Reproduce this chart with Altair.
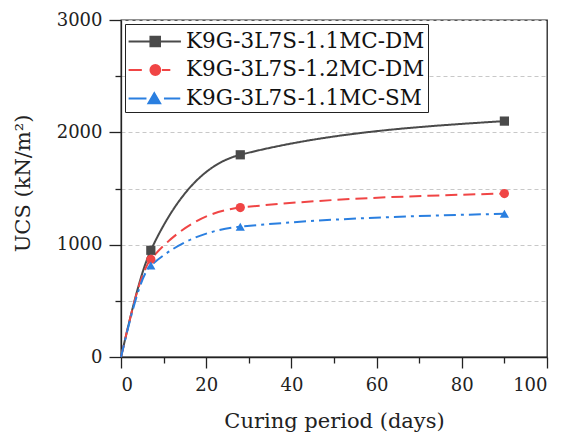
import altair as alt
import pandas as pd

# ---- data ----
days = [0, 7, 28, 90]
series_names = ["K9G-3L7S-1.1MC-DM", "K9G-3L7S-1.2MC-DM", "K9G-3L7S-1.1MC-SM"]
ucs_11_dm = [0, 950, 1800, 2100]
ucs_12_dm = [0, 870, 1330, 1455]
ucs_11_sm = [0, 815, 1160, 1275]

colors = ["#4a4a4a", "#f04545", "#2a7fe0"]
dashes = [[1, 0], [12, 6], [12, 5, 3, 5]]
point_shapes = ["square", "circle", "triangle-up"]
# legend glyphs: line segment(s) plus marker, in symbol units
legend_paths = [
    "M-1.05,0H2.9M0.6,-0.36H1.32V0.36H0.6Z",
    "M-1.05,0H-0.05M1.47,0H2.1M1.34,0A0.37,0.37,0,1,1,0.6,0A0.37,0.37,0,1,1,1.34,0Z",
    "M-1.05,0H0.3M1.62,0H2.85M0.89,-0.4L1.33,0.36H0.45Z",
]

rows = []
for name, vals in zip(series_names, [ucs_11_dm, ucs_12_dm, ucs_11_sm]):
    for d, v in zip(days, vals):
        rows.append({"days": d, "ucs": v, "series": name})
df = pd.DataFrame(rows)

FONT = "DejaVu Serif"

x_enc = alt.X(
    "days:Q",
    scale=alt.Scale(domain=[0, 100], nice=False),
    axis=alt.Axis(
        title="Curing period (days)",
        values=list(range(0, 101, 10)),
        labelExpr="datum.value % 20 === 0 ? datum.label : ''",
        tickSize={"condition": {"test": "datum.value % 20 === 0", "value": 11}, "value": 6},
        labelPadding=8,
        grid=False,
        titleY=70,
        titleBaseline="alphabetic",
    ),
)
y_enc = alt.Y(
    "ucs:Q",
    scale=alt.Scale(domain=[0, 3000], nice=False),
    axis=alt.Axis(
        title="UCS (kN/m²)",
        values=list(range(0, 3001, 500)),
        labelExpr="datum.value % 1000 === 0 ? datum.label : ''",
        tickSize={"condition": {"test": "datum.value % 1000 === 0", "value": 12}, "value": 6},
        labelPadding=7,
        grid=True,
        gridDash=[4, 3],
        gridColor="#c8c8c8",
        gridWidth=1,
        titleX=-98,
        titleY=163,
        titleBaseline="middle",
        titleAlign="center",
        format="d",
    ),
)

color_scale = alt.Scale(domain=series_names, range=colors)

lines = alt.Chart(df).mark_line(interpolate="monotone", strokeWidth=2).encode(
    x=x_enc,
    y=y_enc,
    stroke=alt.Stroke("series:N", scale=color_scale, legend=None),
    strokeDash=alt.StrokeDash("series:N", scale=alt.Scale(domain=series_names, range=dashes), legend=None),
)

points = alt.Chart(df).transform_filter("datum.days > 0").mark_point(filled=True, size=85, opacity=1).encode(
    x="days:Q",
    y="ucs:Q",
    fill=alt.Fill("series:N", scale=color_scale, legend=None),
    shape=alt.Shape("series:N", scale=alt.Scale(domain=series_names, range=point_shapes), legend=None),
)

legend_layer = alt.Chart(df).transform_filter("false").mark_point(filled=True, opacity=1).encode(
    x="days:Q",
    y="ucs:Q",
    fill=alt.Fill("series:N", scale=color_scale, legend=alt.Legend(title=None)),
    stroke=alt.Stroke("series:N", scale=color_scale, legend=alt.Legend(title=None)),
    shape=alt.Shape(
        "series:N",
        scale=alt.Scale(domain=series_names, range=legend_paths),
        legend=alt.Legend(
            title=None,
            orient="none",
            legendX=4,
            legendY=4,
            symbolSize=702,
            symbolStrokeWidth=2,
            labelFont=FONT,
            labelFontSize=21.5,
            labelColor="#111",
            labelOffset=29,
            padding=3,
            rowPadding=3.5,
            strokeColor="#222",
            fillColor="white",
            labelLimit=400,
        ),
    ),
)

chart = (
    alt.layer(lines, points, legend_layer)
    .resolve_scale(shape="independent", fill="independent", stroke="independent", strokeDash="independent")
    .resolve_legend(shape="independent", fill="independent", stroke="independent")
    .properties(
        width=426,
        height=337,
        autosize=alt.AutoSizeParams(type="none"),
        padding={"left": 113, "top": 12, "right": 12, "bottom": 80},
        background="white",
    )
    .configure_view(stroke="#222", strokeWidth=1.3)
    .configure_axis(
        domainColor="#222",
        domainWidth=1.3,
        tickColor="#222",
        tickWidth=1.3,
        labelFont=FONT,
        labelFontSize=18,
        labelColor="#222",
        titleFont=FONT,
        titleFontSize=21,
        titleFontWeight="normal",
        titleColor="#222",
    )
)

chart.save("out.html", embed_options={"renderer": "svg", "actions": False})
